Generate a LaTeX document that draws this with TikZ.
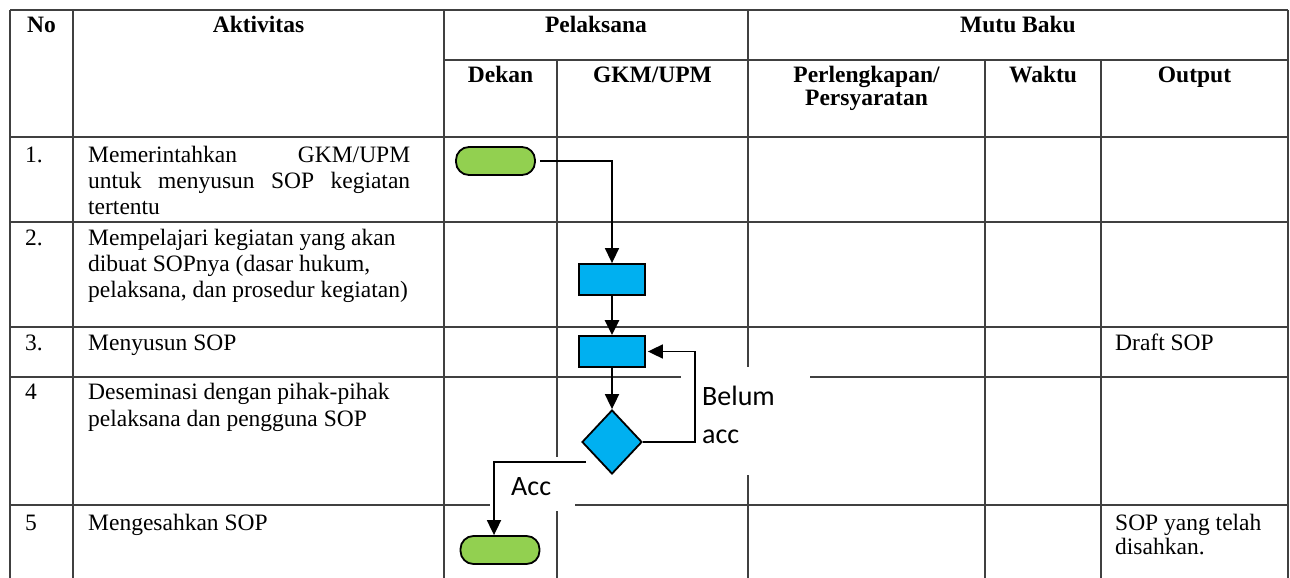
\documentclass[tikz,border=0pt]{standalone}
\usepackage{fontspec}
\setmainfont{Liberation Serif}
\newfontfamily\lblfont{Carlito}
\usetikzlibrary{shapes.geometric,arrows.meta}
\definecolor{termgreen}{HTML}{92D050}
\definecolor{procblue}{HTML}{00B0F0}
\definecolor{gridgray}{HTML}{404040}
\begin{document}
\begin{tikzpicture}[x=1pt,y=-1pt,
  grid/.style={draw=gridgray,line width=1.4pt},
  txt/.style={inner sep=0,anchor=base west,font=\fontsize{23.5}{26}\selectfont},
  hdr/.style={inner sep=0,anchor=base,font=\fontsize{23.5}{26}\selectfont\bfseries},
  term/.style={draw=black,line width=1.8pt,fill=termgreen,rounded corners=13pt,minimum width=79pt,minimum height=28pt,inner sep=0},
  proc/.style={draw=black,line width=1.8pt,fill=procblue,minimum width=66pt,minimum height=31pt,inner sep=0},
  dec/.style={draw=black,line width=1.8pt,fill=procblue,diamond,minimum width=60pt,minimum height=64pt,inner sep=0},
  flow/.style={line width=1.8pt,-{Triangle[width=14pt,length=15pt]}},
  lbl/.style={inner sep=0,anchor=base west,font=\lblfont\fontsize{28}{38}\selectfont}]
\useasboundingbox (0,0) rectangle (1290,578);
\fill[white] (0,0) rectangle (1290,578);
% grid
\foreach \yy in {10,137,222,327,377,505} \draw[grid] (10,\yy) -- (1288,\yy);
\draw[grid] (444,60) -- (1288,60);
\foreach \xx in {10,73,444,748,1288} \draw[grid] (\xx,10) -- (\xx,578);
\foreach \xx in {557,985,1101} \draw[grid] (\xx,60) -- (\xx,578);
% label backgrounds
\fill[white] (681,367) rectangle (810,475);
\fill[white] (490,457) rectangle (575,511);
% headers
\node[hdr] (hno) at (41.5,33) {No};
\node[hdr] (hakt) at (258.5,33) {Aktivitas};
\node[hdr] (hpel) at (596,33) {Pelaksana};
\node[hdr] (hmutu) at (1018,33) {Mutu Baku};
\node[hdr] (hdekan) at (500.5,82) {Dekan};
\node[hdr] (hgkm) at (652.5,82) {GKM/UPM};
\node[hdr] (hperl1) at (866.5,82) {Perlengkapan/};
\node[hdr] (hperl2) at (866.5,105) {Persyaratan};
\node[hdr] (hwaktu) at (1043,82) {Waktu};
\node[hdr] (hout) at (1194.5,82) {Output};
% row 1
\node[txt] (n1) at (25,162) {1.};
\node[txt] (a1a) at (88,162) {\hbox to 322pt{Memerintahkan\hfill GKM/UPM}};
\node[txt] (a1b) at (88,188) {\hbox to 322pt{untuk\hfill menyusun\hfill SOP\hfill kegiatan}};
\node[txt] (a1c) at (88,214) {tertentu};
% row 2
\node[txt] (n2) at (25,245) {2.};
\node[txt] (a2a) at (88,245) {Mempelajari kegiatan yang akan};
\node[txt] (a2b) at (88,271) {dibuat SOPnya (dasar hukum,};
\node[txt] (a2c) at (88,297) {pelaksana, dan prosedur kegiatan)};
% row 3
\node[txt] (n3) at (25,350) {3.};
\node[txt] (a3) at (88,350) {Menyusun SOP};
\node[txt] (o3) at (1115,350) {Draft SOP};
% row 4
\node[txt] (n4) at (25,399) {4};
\node[txt] (a4a) at (88,399) {Deseminasi dengan pihak-pihak};
\node[txt] (a4b) at (88,426) {pelaksana dan pengguna SOP};
% row 5
\node[txt] (n5) at (25,530) {5};
\node[txt] (a5) at (88,530) {Mengesahkan SOP};
\node[txt] (o5a) at (1115,530) {SOP yang telah};
\node[txt] (o5b) at (1115,554) {disahkan.};
% flowchart
\node[term] (start) at (495.5,161) {};
\node[proc] (p1) at (612,279.5) {};
\node[proc] (p2) at (612,351.5) {};
\node[dec] (d) at (612,442) {};
\node[term] (end) at (500,550) {};
\coordinate (accstart) at (586,462);
\draw[flow,line width=1.5pt,shorten <=4pt] (start.east) -| (p1.north);
\draw[flow,line width=2.6pt] (p1.south) -- (p2.north);
\draw[flow] (p2.south) -- (d.north);
\draw[flow] (d.east) -- (695,442) |- ([xshift=2pt]p2.east);
\draw[flow] (accstart) -| ([xshift=-6pt]end.north);
\node[lbl] (belum1) at (702,405) {Belum};
\node[lbl] (belum2) at (702,443) {acc};
\node[lbl] (acc) at (511,495) {Acc};
\end{tikzpicture}
\end{document}
